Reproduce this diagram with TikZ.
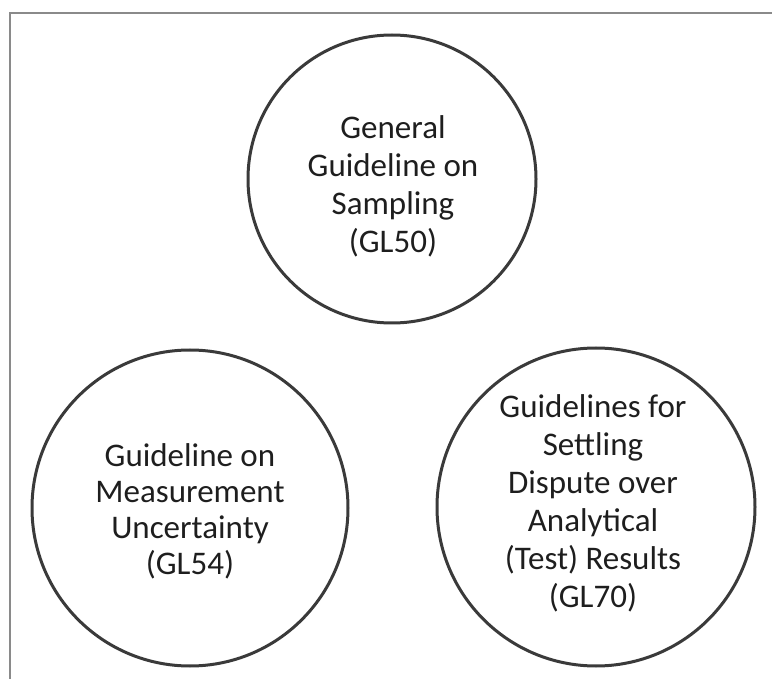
\documentclass[tikz,border=0pt]{standalone}
\usepackage{fontspec}
\setmainfont{Carlito}
\definecolor{ringcol}{HTML}{3A3A3A}
\definecolor{framecol}{HTML}{8A8A8A}
\definecolor{txtcol}{HTML}{1E1E1E}
\begin{document}
\begin{tikzpicture}[x=1pt,y=-1pt,
  ring/.style={circle, draw=ringcol, line width=3pt, inner sep=0pt},
  label/.style={align=center, text=txtcol, inner sep=0pt},
  frameline/.style={draw=framecol, line width=2pt}]
\useasboundingbox (0,0) rectangle (772,679);
\coordinate (fbl) at (10,679);
\coordinate (ftl) at (10,13);
\coordinate (ftr) at (772,13);
\draw[frameline] (fbl) -- (ftl) -- (ftr);
\node[ring, minimum size=288pt] (gl50) at (392,179) {};
\node[ring, minimum size=316pt] (gl54) at (190,508) {};
\node[ring, minimum size=318pt] (gl70) at (596,507) {};
\node[label, font=\fontsize{33}{38}\selectfont] (t50) at (393,186) {General\\Guideline on\\Sampling\\(GL50)};
\node[label, font=\fontsize{33}{36}\selectfont] (t54) at (190,511) {Guideline on\\Measurement\\Uncertainty\\(GL54)};
\node[label, font=\fontsize{33}{38}\selectfont] (t70) at (593,503) {Guidelines for\\Settling\\Dispute over\\Analytical\\(Test) Results\\(GL70)};
\end{tikzpicture}
\end{document}
